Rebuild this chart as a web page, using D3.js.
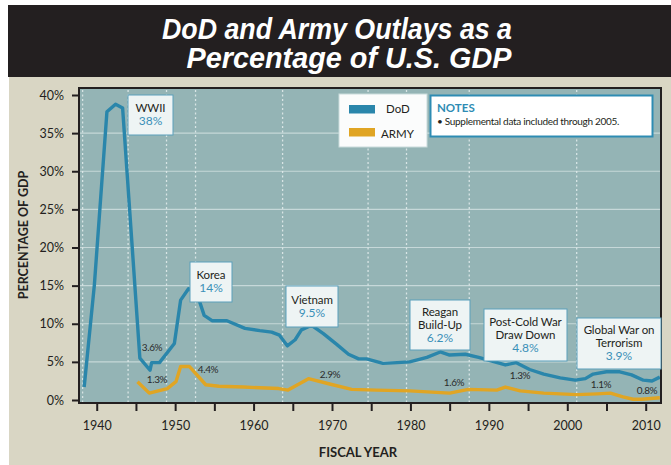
<!DOCTYPE html>
<html>
<head>
<meta charset="utf-8">
<script src="https://cdn.jsdelivr.net/npm/d3@7"></script>
<style>
  body { margin: 0; background: #fff; }
  svg { display: block; font-family: Lato, "Open Sans", sans-serif; }
</style>
</head>
<body>
<div id="chart"></div>
<script>
// DoD outlays, % of GDP
var dodYears = [1938.4, 1939.7, 1941.3, 1942.4, 1943.3, 1945.5, 1946.8, 1947.0, 1948.0, 1949.9,
  1950.7, 1951.7, 1952.8, 1953.7, 1954.7, 1956.6, 1958.9, 1960.8, 1962.3, 1963.3,
  1964.3, 1965.3, 1966.1, 1967.4, 1968.9, 1970.6, 1972.1, 1973.4, 1974.4, 1976.5,
  1978.3, 1979.9, 1982.1, 1983.8, 1985.0, 1987.0, 1988.7, 1990.4, 1992.1, 1993.5,
  1995.2, 1997.0, 1999.1, 2001.0, 2002.3, 2003.3, 2005.0, 2006.7, 2008.2, 2009.7,
  2010.8, 2011.8];
var dodValues = [1.7, 15.1, 37.8, 38.8, 38.3, 5.5, 3.9, 4.9, 4.9, 7.4,
  13.1, 14.6, 13.9, 11.1, 10.4, 10.4, 9.4, 9.1, 8.9, 8.5,
  7.1, 7.9, 9.2, 9.8, 8.7, 7.3, 6.0, 5.4, 5.4, 4.8,
  4.9, 5.0, 5.6, 6.3, 5.9, 6.0, 5.6, 5.1, 4.6, 4.9,
  4.0, 3.4, 2.9, 2.6, 2.8, 3.4, 3.7, 3.7, 3.3, 2.6,
  2.5, 3.0];

// Army outlays, % of GDP
var armyYears = [1945.2, 1946.7, 1949.0, 1950.1, 1950.7, 1951.8, 1953.9, 1955.6, 1958.7, 1963.2,
  1964.4, 1967.0, 1969.7, 1972.5, 1975.7, 1979.9, 1985.0, 1987.4, 1991.0, 1992.1,
  1994.0, 1997.0, 2001.2, 2003.8, 2005.5, 2007.1, 2008.4, 2009.5, 2011.8];
var armyValues = [2.4, 0.9, 1.5, 2.4, 4.4, 4.4, 2.0, 1.8, 1.7, 1.5,
  1.3, 2.8, 2.1, 1.4, 1.3, 1.2, 0.9, 1.4, 1.3, 1.7,
  1.2, 0.9, 0.7, 0.8, 0.9, 0.4, 0.1, 0.1, 0.3];

var xTicks = d3.range(1940, 2011, 5);
var yTicks = [0, 5, 10, 15, 20, 25, 30, 35, 40];
var markerYears = [1938.2, 1944.0, 1948.9, 1952.6, 1963.7, 1974.6, 1979.5, 1987.5, 2001.2];

var callouts = [
  { lines: ["WWII"], value: "38%", x: 128, y: 95, w: 45, h: 40 },
  { lines: ["Korea"], value: "14%", x: 190, y: 262, w: 42, h: 40 },
  { lines: ["Vietnam"], value: "9.5%", x: 286, y: 286, w: 52, h: 41 },
  { lines: ["Reagan", "Build-Up"], value: "6.2%", x: 410, y: 300, w: 60, h: 50 },
  { lines: ["Post-Cold War", "Draw Down"], value: "4.8%", x: 484, y: 309, w: 83, h: 52 },
  { lines: ["Global War on", "Terrorism"], value: "3.9%", x: 577, y: 318, w: 84, h: 51 }
];
var smallLabels = [
  { t: "3.6%", x: 152, y: 351 }, { t: "1.3%", x: 157, y: 383 },
  { t: "4.4%", x: 208, y: 373 }, { t: "2.9%", x: 330, y: 378 },
  { t: "1.6%", x: 454, y: 386 }, { t: "1.3%", x: 520, y: 379 },
  { t: "1.1%", x: 601, y: 388 }, { t: "0.8%", x: 647, y: 394 }
];

var W = 671, H = 465;
var plot = { left: 79, top: 88, right: 661, bottom: 403 };
var dodColor = "#2a86ab", armyColor = "#e0a524", ink = "#231f20";

var svg = d3.select("#chart").append("svg").attr("width", W).attr("height", H);

// background panels
svg.append("rect").attr("x", 9).attr("y", 76).attr("width", W - 9).attr("height", H - 76).attr("fill", "#d9d6c4");
svg.append("rect").attr("x", 8).attr("y", 5).attr("width", W - 8).attr("height", 72).attr("fill", ink);

var title = svg.append("g").attr("fill", "#fff")
  .style("font-family", "'Liberation Sans', Arial, sans-serif")
  .style("font-weight", "bold").style("font-style", "italic").style("font-size", "29px")
  .attr("text-anchor", "middle");
title.append("text").attr("x", 337).attr("y", 39).attr("textLength", 350).attr("lengthAdjust", "spacingAndGlyphs")
  .text("DoD and Army Outlays as a");
title.append("text").attr("x", 349).attr("y", 68).attr("textLength", 325).attr("lengthAdjust", "spacingAndGlyphs")
  .text("Percentage of U.S. GDP");

/* Scales */
var x = d3.scaleLinear().domain([1937.74, 2011.95]).range([plot.left, plot.right]);
var y = d3.scaleLinear().domain([0, 40]).range([400, 95]);

svg.append("rect").attr("x", plot.left).attr("y", plot.top)
  .attr("width", plot.right - plot.left).attr("height", plot.bottom - plot.top)
  .attr("fill", "#94b4b5");

// horizontal gridlines
svg.append("g").selectAll("line").data(yTicks.filter(d => d > 0 && d < 40)).enter().append("line")
  .attr("x1", plot.left).attr("x2", plot.right)
  .attr("y1", d => y(d)).attr("y2", d => y(d))
  .attr("stroke", "#d3e2e2").attr("stroke-width", 1.2).attr("opacity", 0.8);

// dotted period markers
svg.append("g").selectAll("line").data(markerYears).enter().append("line")
  .attr("x1", d => x(d)).attr("x2", d => x(d))
  .attr("y1", plot.top + 2).attr("y2", plot.bottom - 1)
  .attr("stroke", "#e4eeee").attr("stroke-width", 1.3).attr("stroke-dasharray", "2,2.5").attr("opacity", 0.85);

/* Lines */
var line = d3.line().x(d => x(d[0])).y(d => y(d[1]));
svg.append("path").datum(d3.zip(armyYears, armyValues)).attr("d", line)
  .attr("fill", "none").attr("stroke", armyColor).attr("stroke-width", 3.4).attr("stroke-linejoin", "round");
svg.append("path").datum(d3.zip(dodYears, dodValues)).attr("d", line)
  .attr("fill", "none").attr("stroke", dodColor).attr("stroke-width", 3.4).attr("stroke-linejoin", "round");

// frame
svg.append("rect").attr("x", plot.left).attr("y", plot.top)
  .attr("width", plot.right - plot.left).attr("height", plot.bottom - plot.top)
  .attr("fill", "none").attr("stroke", ink).attr("stroke-width", 2);

/* Axes */
var xAxis = d3.axisBottom(x).tickValues(xTicks).tickSize(8).tickPadding(10)
  .tickFormat(d => d % 10 === 0 ? d : "");
svg.append("g").attr("transform", `translate(0, ${plot.bottom})`).call(xAxis)
  .call(g => g.select(".domain").remove())
  .call(g => g.selectAll("line").attr("stroke", ink).attr("stroke-width", 2))
  .call(g => g.selectAll("text").attr("fill", ink).style("font-size", "12.5px").style("font-family", "Lato, sans-serif"));

var yAxis = d3.axisLeft(y).tickValues(yTicks).tickSize(7).tickPadding(8).tickFormat(d => d + "%");
svg.append("g").attr("transform", `translate(${plot.left}, 0)`).call(yAxis)
  .call(g => g.select(".domain").remove())
  .call(g => g.selectAll("line").attr("stroke", ink).attr("stroke-width", 2))
  .call(g => g.selectAll("text").attr("fill", ink).style("font-size", "12.5px").style("font-family", "Lato, sans-serif"));

svg.append("text").attr("transform", "translate(28, 235) rotate(-90)").attr("text-anchor", "middle")
  .attr("fill", ink).style("font-weight", "bold").style("font-size", "12.5px")
  .text("PERCENTAGE OF GDP");
svg.append("text").attr("x", 358).attr("y", 457).attr("text-anchor", "middle")
  .attr("fill", ink).style("font-weight", "bold").style("font-size", "13px")
  .text("FISCAL YEAR");

/* Small value labels */
svg.append("g").selectAll("text").data(smallLabels).enter().append("text")
  .attr("x", d => d.x).attr("y", d => d.y).attr("text-anchor", "middle")
  .attr("fill", "#2b2b2b").style("font-size", "10px").style("letter-spacing", "-0.4px")
  .text(d => d.t);

/* Callouts */
var cg = svg.append("g").selectAll("g").data(callouts).enter().append("g");
cg.append("rect").attr("x", d => d.x).attr("y", d => d.y).attr("width", d => d.w).attr("height", d => d.h)
  .attr("fill", "#eef4f4").attr("stroke", "#5b9fbb").attr("stroke-width", 1);
cg.each(function(d) {
  var g = d3.select(this), n = d.lines.length;
  var lh = 13, top = d.y + (d.h - (n + 1) * lh) / 2 + 10;
  d.lines.forEach(function(t, i) {
    g.append("text").attr("x", d.x + d.w / 2).attr("y", top + i * lh).attr("text-anchor", "middle")
      .attr("fill", ink).style("font-size", "11.5px").style("letter-spacing", "-0.1px").text(t);
  });
  g.append("text").attr("x", d.x + d.w / 2).attr("y", top + n * lh).attr("text-anchor", "middle")
    .attr("fill", "#3a90b8").style("font-size", "12px").text(d.value);
});

/* Legend */
var lg = svg.append("g");
lg.append("rect").attr("x", 339).attr("y", 94).attr("width", 88).attr("height", 53)
  .attr("fill", "#fbfcfc").attr("stroke", "#c9dbdc").attr("stroke-width", 1);
[["DoD", dodColor, 105, 113], ["ARMY", armyColor, 128, 138]].forEach(function(l) {
  lg.append("rect").attr("x", 349).attr("y", l[2]).attr("width", 26).attr("height", 8.5).attr("fill", l[1]);
  lg.append("text").attr("x", l[0] === "DoD" ? 386 : 381).attr("y", l[3]).attr("fill", ink)
    .style("font-size", "11.5px").text(l[0]);
});

// notes box
svg.append("rect").attr("x", 430.5).attr("y", 95.5).attr("width", 222).attr("height", 41)
  .attr("fill", "#fff").attr("stroke", "#2e8cb3").attr("stroke-width", 2);
svg.append("text").attr("x", 437).attr("y", 111.5).attr("fill", "#2e8cb3")
  .style("font-weight", "bold").style("font-size", "11.5px").text("NOTES");
svg.append("text").attr("x", 437).attr("y", 124.5).attr("fill", ink)
  .style("font-size", "10px").style("letter-spacing", "-0.3px")
  .text("\u2022 Supplemental data included through 2005.");
</script>
</body>
</html>
